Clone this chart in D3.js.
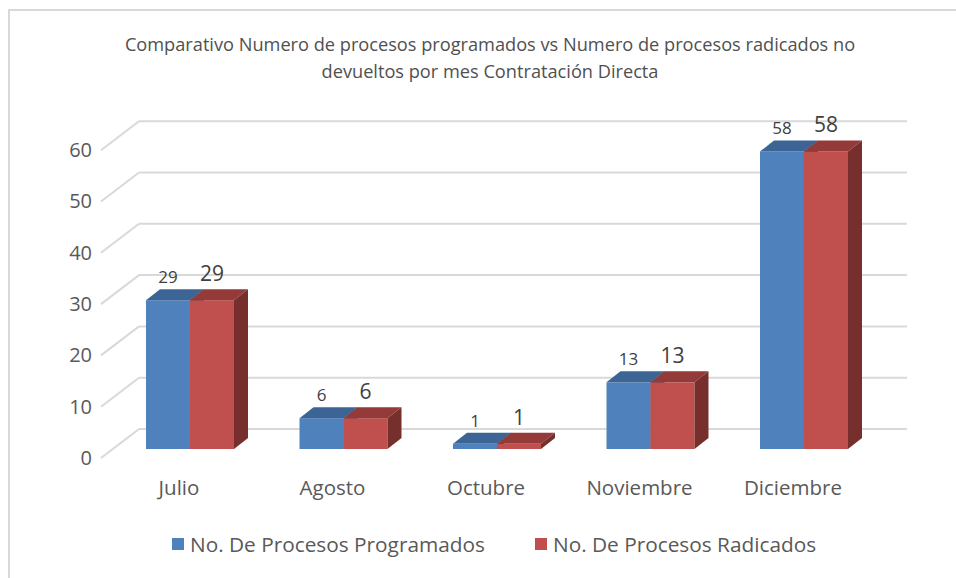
<!DOCTYPE html>
<html><head><meta charset="utf-8">
<script src="https://cdn.jsdelivr.net/npm/d3@7"></script>
<style>
html,body{margin:0;padding:0;background:#fff;}
svg{display:block;font-family:"Open Sans",sans-serif;}
</style></head>
<body><svg id="c" width="956" height="578"></svg>
<script>
const categories = ["Julio","Agosto","Octubre","Noviembre","Diciembre"];
const seriesNames = ["No. De Procesos Programados","No. De Procesos Radicados"];
const programados = [29,6,1,13,58];
const radicados = [29,6,1,13,58];
const yTicks = [0,10,20,30,40,50,60];
const titleLines = ["Comparativo Numero de procesos programados vs Numero de procesos radicados no","devueltos por mes Contratación Directa"];

const colors = [
  {front:"#4f81bd", top:"#3c6595", side:"#2f5078"},
  {front:"#c0504d", top:"#943a38", side:"#772f2d"}
];
const seriesData = [programados, radicados];

const svg = d3.select("#c");
const W = 956, H = 578;

// frame
svg.append("path").attr("d", `M9,${H} L9,10 L${W},10`).attr("fill","none")
  .attr("stroke","#d9d9d9").attr("stroke-width",2);

// title
svg.append("g").selectAll("text").data(titleLines).join("text")
  .attr("x", 490).attr("y",(d,i)=>51+i*27).attr("text-anchor","middle")
  .attr("font-size",18.2).attr("fill","#505050").text(d=>d);

// scales
const y = d3.scaleLinear().domain([0,60]).range([449, 449-60*5.13]);
const backOff = 20;      // back wall shift
const floorDx = 38, floorDy = 29;
const wallX0 = 139, wallX1 = 907;

const x = d3.scaleBand().domain(categories).range([113, 881]).paddingInner(0.4267).paddingOuter(0.215);
const xs = d3.scaleBand().domain([0,1]).range([0, x.bandwidth()]);

// gridlines (back wall + side wall)
const grid = svg.append("g");
yTicks.forEach(t=>{
  const yb = y(t) - backOff;
  grid.append("line").attr("x1",wallX0).attr("x2",wallX1).attr("y1",yb).attr("y2",yb)
    .attr("stroke","#d9d9d9").attr("stroke-width",2);
  grid.append("line").attr("x1",wallX0-floorDx).attr("y1",yb+floorDy).attr("x2",wallX0).attr("y2",yb)
    .attr("stroke","#d9d9d9").attr("stroke-width",2);
});

// y axis labels
const yLab = d3.scaleLinear().domain([0,60]).range([y(0)-backOff+floorDy, y(60)-backOff+floorDy]);
const axis = d3.axisLeft(yLab).tickValues(yTicks).tickSize(0).tickPadding(0);
const ag = svg.append("g").attr("transform","translate(92,0)").call(axis);
ag.select(".domain").remove();
ag.selectAll("text").attr("font-size",20).attr("fill","#595959").attr("font-family","Open Sans, sans-serif");

// bars
const bdx = 14, bdy = 11;
const bars = svg.append("g");
categories.forEach((c,ci)=>{
  [0,1].forEach(si=>{
    const v = seriesData[si][ci];
    const x0 = x(c) + xs(si), w = xs.bandwidth();
    const yt = y(v), y0 = y(0);
    const col = colors[si];
    const g = bars.append("g");
    g.append("rect").attr("x",x0).attr("y",yt).attr("width",w).attr("height",y0-yt).attr("fill",col.front);
    g.append("path").attr("d",`M${x0},${yt}L${x0+bdx},${yt-bdy}L${x0+w+bdx},${yt-bdy}L${x0+w},${yt}Z`).attr("fill",col.top);
    g.append("path").attr("d",`M${x0+w},${yt}L${x0+w+bdx},${yt-bdy}L${x0+w+bdx},${y0-bdy}L${x0+w},${y0}Z`).attr("fill",col.side);
  });
});

// data labels
const lab = svg.append("g");
categories.forEach((c,ci)=>{
  [0,1].forEach(si=>{
    const v = seriesData[si][ci];
    const cx = x(c) + xs(si) + xs.bandwidth()/2;
    lab.append("text").attr("x",cx).attr("y", y(v)-bdy-(si===0?6:8))
      .attr("text-anchor","middle").attr("font-size", si===0?17:21).attr("fill","#404040").text(v);
  });
});

// category labels
svg.append("g").selectAll("text").data(categories).join("text")
  .attr("x",d=>x(d)+x.bandwidth()/2-11).attr("y",495).attr("text-anchor","middle")
  .attr("font-size",20.5).attr("fill","#595959").text(d=>d);

// legend
const legX = [172, 535];
const leg = svg.append("g");
seriesNames.forEach((n,i)=>{
  leg.append("rect").attr("x",legX[i]).attr("y",538).attr("width",12).attr("height",12).attr("fill",colors[i].front);
  leg.append("text").attr("x",legX[i]+18).attr("y",552).attr("font-size",20.8).attr("fill","#595959").text(n);
});
</script></body></html>
